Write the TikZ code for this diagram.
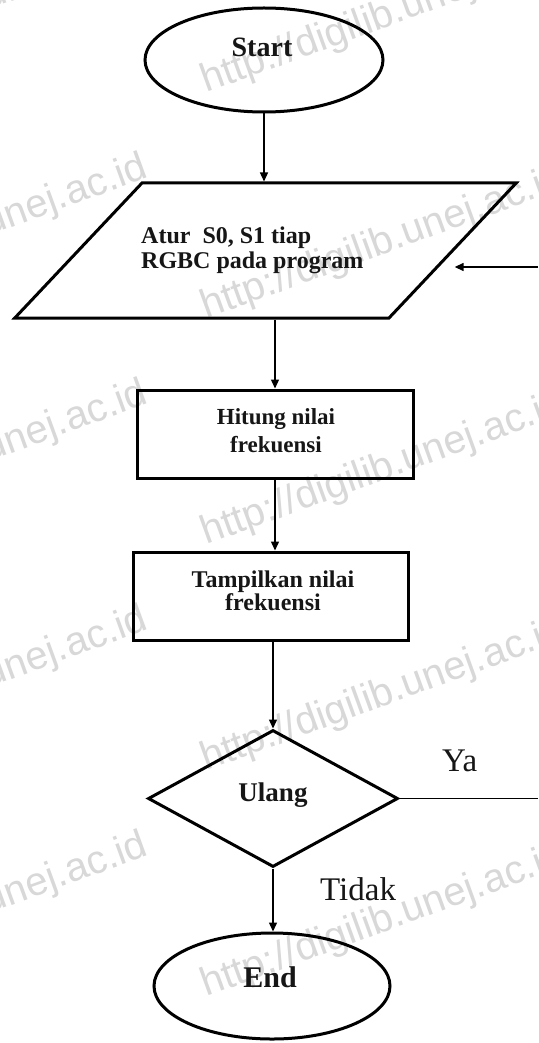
\documentclass[tikz,border=0pt]{standalone}
\usepackage{fontspec}
\setmainfont{Liberation Serif}
\newfontfamily\wmfont{Liberation Sans}
\usetikzlibrary{shapes.geometric,arrows.meta}
\definecolor{wm}{RGB}{216,216,216}
\definecolor{txt}{RGB}{22,22,22}
\begin{document}
\begin{tikzpicture}[x=1pt,y=-1pt,
  shapebox/.style={draw=black,line width=3pt,inner sep=0pt},
  conn/.style={draw=black,line width=1.4pt},
  arr/.style={conn,-{Triangle[length=9pt,width=8pt]}},
  lbl/.style={text=txt,inner sep=0pt},
  wmtext/.style={text=wm,font=\wmfont\fontsize{40}{40}\selectfont,rotate=20,inner sep=0pt}]
\useasboundingbox (0,0) rectangle (538,1043);
\fill[white] (0,0) rectangle (538,1043);
% watermark
\foreach \k in {0,...,4} {
  \node[wmtext,anchor=base west] (wmb\k) at (206,{93+226*\k}) {http://digilib.unej.ac.id};
}
\foreach \k in {-1,...,4} {
  \node[wmtext,anchor=base east] (wma\k) at (150,{177+226*\k}) {http://digilib.unej.ac.id};
}
% shapes
\node[shapebox,ellipse,minimum width=238pt,minimum height=104pt] (start) at (264,60) {};
\node[draw=black,line width=3pt,trapezium,trapezium left angle=46.7,trapezium right angle=133.3,
      inner xsep=123.5pt,inner ysep=67.5pt] (io) at (265.5,250.5) {};
\node[shapebox,rectangle,minimum width=276pt,minimum height=88pt] (hit) at (275,434) {};
\node[shapebox,rectangle,minimum width=275pt,minimum height=88pt] (tam) at (270.5,596) {};
\node[shapebox,diamond,minimum width=250pt,minimum height=137pt] (dec) at (273,798.5) {};
\node[shapebox,ellipse,minimum width=236pt,minimum height=106pt] (end) at (272,986) {};
% texts
\node[lbl,font=\bfseries\fontsize{28}{30}\selectfont,anchor=base] (tstart) at (262,57) {Start};
\node[lbl,font=\bfseries\fontsize{24}{25}\selectfont,anchor=base west,align=left] (tio) at (141,268) {Atur\ \ S0, S1 tiap\\RGBC pada program};
\node[lbl,font=\bfseries\fontsize{23}{28}\selectfont,anchor=base,align=center] (thit) at (276,452) {Hitung nilai\\frekuensi};
\node[lbl,font=\bfseries\fontsize{24}{23}\selectfont,anchor=base,align=center] (ttam) at (273,610) {Tampilkan nilai\\frekuensi};
\node[lbl,font=\bfseries\fontsize{27}{30}\selectfont,anchor=base] (tul) at (273,801) {Ulang};
\node[lbl,font=\bfseries\fontsize{30}{32}\selectfont,anchor=base] (tend) at (270,987) {End};
\node[lbl,font=\fontsize{33}{36}\selectfont,anchor=base west] (tya) at (442,771) {Ya};
\node[lbl,font=\fontsize{33}{36}\selectfont,anchor=base west] (ttid) at (320,900) {Tidak};
% connectors
\draw[arr] (start.south) -- (start.south |- io.north);
\draw[arr] (hit.north |- io.south) -- (hit.north);
\draw[arr] (hit.south) -- (hit.south |- tam.north);
\draw[arr] (tam.south -| dec.north) -- (dec.north);
\draw[arr] (dec.south) -- (dec.south |- end.north);
\coordinate (loopout) at (538,798.5);
\draw[conn] (dec.east) -- (loopout);
\coordinate (loopin) at (538,267);
\draw[arr] (loopin) -- (io.east |- loopin);
\end{tikzpicture}
\end{document}
